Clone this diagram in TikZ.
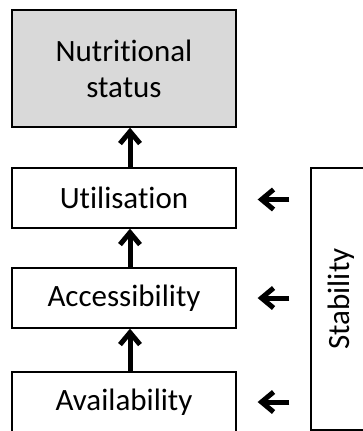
\documentclass[tikz,border=0pt]{standalone}
\usepackage{fontspec}
\setmainfont{Carlito}[Ligatures=NoCommon]
\usetikzlibrary{arrows.meta}
\definecolor{boxgray}{HTML}{D9D9D9}
\tikzset{
  box/.style={draw=black, line width=1.3pt, minimum width=224pt, minimum height=60pt, inner sep=0pt, align=center, font=\fontsize{31}{36}\selectfont},
  varr/.style={line width=5pt, -{Straight Barb[length=12pt,width=20pt]}},
  harr/.style={line width=5pt, -{Straight Barb[length=12pt,width=20pt]}}
}
\begin{document}
\begin{tikzpicture}[x=1pt,y=-1pt]
\useasboundingbox (0,0) rectangle (362,431);
\node[box, fill=boxgray, minimum height=117pt] (nutr) at (124,68.5) {Nutritional\\status};
\node[box] (util) at (124,198) {Utilisation};
\node[box] (acc) at (124,298) {Accessibility};
\node[box] (avail) at (124,402) {Availability};
\node[box, minimum width=61pt, minimum height=262pt] (stab) at (341.5,299) {};
\node[rotate=90, font=\fontsize{31}{36}\selectfont] (stabtxt) at (stab.center) {Stability};
\draw[varr] ([xshift=6pt]util.north) -- ([xshift=6pt]nutr.south);
\draw[varr] ([xshift=6pt]acc.north) -- ([xshift=6pt]util.south);
\draw[varr] ([xshift=6pt]avail.north) -- ([xshift=6pt]acc.south);
\draw[harr, shorten <=21pt, shorten >=21pt] ([yshift=-1.5pt]stab.west |- util.east) -- ([yshift=-1.5pt]util.east);
\draw[harr, shorten <=21pt, shorten >=21pt] (stab.west |- acc.east) -- (acc.east);
\draw[harr, shorten <=21pt, shorten >=21pt] (stab.west |- avail.east) -- (avail.east);
\end{tikzpicture}
\end{document}
